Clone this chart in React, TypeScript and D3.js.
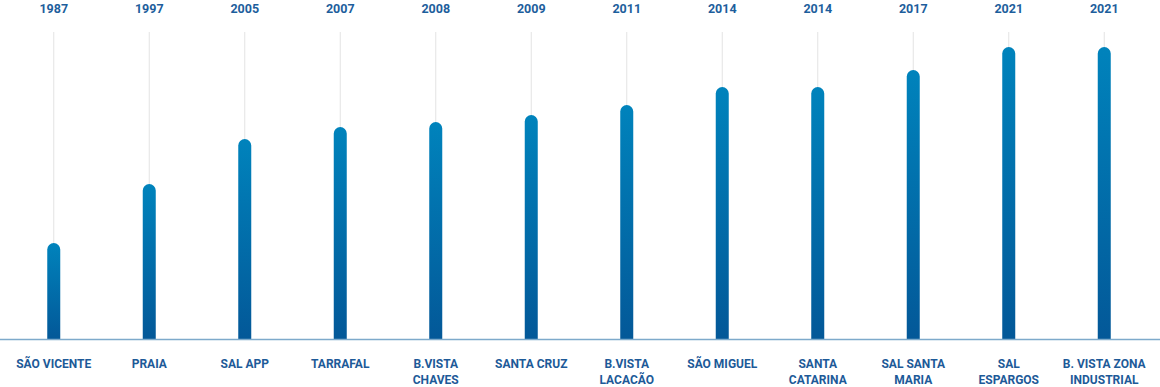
import React from "react";
import * as d3 from "d3";

const categories = [
  ["SÃO VICENTE"],
  ["PRAIA"],
  ["SAL APP"],
  ["TARRAFAL"],
  ["B.VISTA", "CHAVES"],
  ["SANTA CRUZ"],
  ["B.VISTA", "LACACÃO"],
  ["SÃO MIGUEL"],
  ["SANTA", "CATARINA"],
  ["SAL SANTA", "MARIA"],
  ["SAL", "ESPARGOS"],
  ["B. VISTA ZONA", "INDUSTRIAL"],
];
const years = ["1987", "1997", "2005", "2007", "2008", "2009", "2011", "2014", "2014", "2017", "2021", "2021"];
const values = [96, 155, 200, 212, 217, 224, 234, 252, 252, 269, 292, 292];

const W = 1160;
const H = 387;
const baseY = 339;
const topY = 32;
const barW = 13;

export default function App() {
  const ids = categories.map((_, i) => String(i));
  const x = d3.scaleBand<string>().domain(ids).range([6, 1152]);
  const y = d3.scaleLinear().domain([0, 307]).range([baseY, topY]);
  const r = barW / 2;

  return (
    <svg width={W} height={H} style={{ position: "absolute", left: 0, top: 0, fontFamily: "Roboto, Inter, sans-serif" }}>
      <defs>
        <linearGradient id="barGrad" x1="0" y1="0" x2="0" y2="1">
          <stop offset="0%" stopColor="#0083bc" />
          <stop offset="100%" stopColor="#035898" />
        </linearGradient>
      </defs>
      {ids.map((id, i) => {
        const cx = (x(id) as number) + x.bandwidth() / 2;
        const yt = y(values[i]);
        const left = cx - r;
        const path = `M${left},${baseY} L${left},${yt + r} A${r},${r} 0 0 1 ${cx + r},${yt + r} L${cx + r},${baseY} Z`;
        return (
          <g key={id}>
            <line x1={cx} x2={cx} y1={topY} y2={yt + 2} stroke="#e3e3e3" strokeWidth={1} />
            <text x={cx} y={13} textAnchor="middle" fontSize={12.5} fontWeight={700} fill="#1d5e9c">
              {years[i]}
            </text>
            <path d={path} fill="url(#barGrad)" />
            {categories[i].map((line, j) => (
              <text key={j} x={cx} y={368 + j * 16} textAnchor="middle" fontSize={12} fontWeight={700} fill="#1d5a98">
                {line}
              </text>
            ))}
          </g>
        );
      })}
      <line x1={0} x2={W} y1={baseY + 0.5} y2={baseY + 0.5} stroke="#7eaacb" strokeWidth={1.5} />
    </svg>
  );
}
